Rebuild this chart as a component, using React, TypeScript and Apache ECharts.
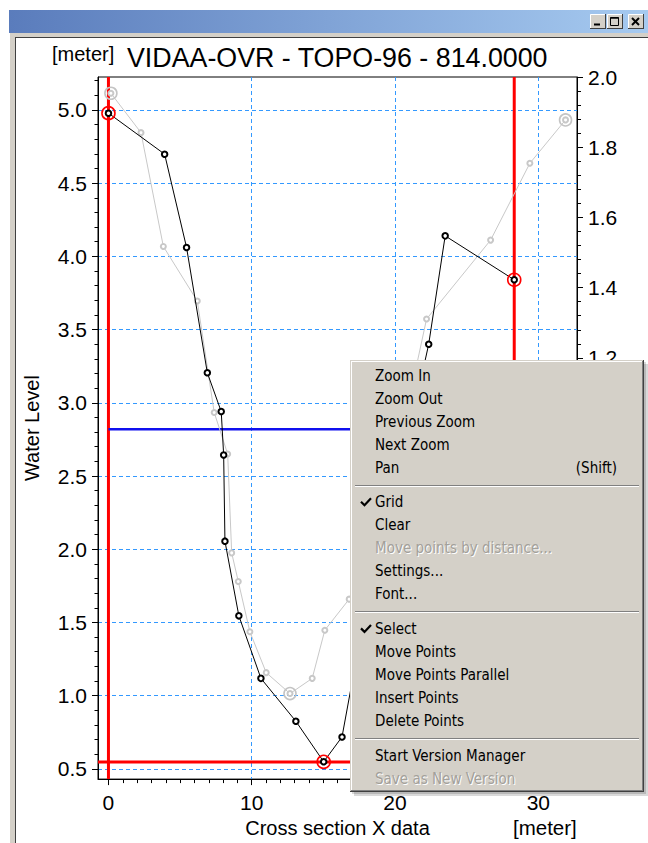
import React, { useEffect, useRef } from 'react';
import * as echarts from 'echarts';

const FONT = "'Liberation Sans', Arial, sans-serif";
const MENU_FONT = "'DejaVu Sans Condensed', 'DejaVu Sans', sans-serif";

// Axis ranges
const xRange = [-0.73, 32.7];
const yRange = [0.43, 5.225];
const rightRange = [0, 2];

// Tick values
const xMajorTicks = [0, 10, 20, 30];
const xMinorTicks = [0, 1, 2, 3, 4, 5, 6, 7, 8, 9, 10, 11, 12, 13, 14, 15, 16, 17, 18, 19, 20, 21, 22, 23, 24, 25, 26, 27, 28, 29, 30, 31, 32];
const yMajorTicks = [0.5, 1.0, 1.5, 2.0, 2.5, 3.0, 3.5, 4.0, 4.5, 5.0];
const yMinorTicks = [
  0.5, 0.6, 0.7, 0.8, 0.9, 1.0, 1.1, 1.2, 1.3, 1.4, 1.5, 1.6, 1.7, 1.8, 1.9, 2.0, 2.1, 2.2, 2.3, 2.4,
  2.5, 2.6, 2.7, 2.8, 2.9, 3.0, 3.1, 3.2, 3.3, 3.4, 3.5, 3.6, 3.7, 3.8, 3.9, 4.0, 4.1, 4.2, 4.3, 4.4,
  4.5, 4.6, 4.7, 4.8, 4.9, 5.0, 5.1, 5.2,
];

// Current cross section (black)
const currentX = [0, 3.92, 5.45, 6.9, 7.87, 8.04, 8.13, 9.1, 10.64, 13.08, 15.02, 16.3, 17.3, 19.0, 21.0, 22.35, 23.5, 28.32];
const currentY = [4.978, 4.698, 4.061, 3.205, 2.94, 2.643, 2.055, 1.545, 1.118, 0.825, 0.548, 0.718, 1.25, 2.0, 2.8, 3.4, 4.14, 3.84];
const currentMarked = [0, 10, 17];

// Previous version (gray)
const previousX = [0.17, 2.27, 3.83, 6.2, 7.38, 8.32, 8.6, 9.06, 9.87, 11.01, 12.67, 14.22, 15.1, 16.8, 18.5, 20.5, 22.2, 26.67, 29.41, 31.9];
const previousY = [5.114, 4.845, 4.068, 3.695, 2.934, 2.65, 1.975, 1.78, 1.436, 1.157, 1.014, 1.118, 1.447, 1.659, 2.1, 2.8, 3.572, 4.111, 4.636, 4.932];
const previousMarked = [0, 10, 19];

// Reference lines
const redVerticalX = [0, 28.32];
const redHorizontalY = 0.546;
const blueLevelY = 2.82;

const menuEntries: any[] = [
  { label: 'Zoom In' },
  { label: 'Zoom Out' },
  { label: 'Previous Zoom' },
  { label: 'Next Zoom' },
  { label: 'Pan', shortcut: '(Shift)' },
  { sep: true },
  { label: 'Grid', checked: true },
  { label: 'Clear' },
  { label: 'Move points by distance...', disabled: true },
  { label: 'Settings...' },
  { label: 'Font...' },
  { sep: true },
  { label: 'Select', checked: true },
  { label: 'Move Points' },
  { label: 'Move Points Parallel' },
  { label: 'Insert Points' },
  { label: 'Delete Points' },
  { sep: true },
  { label: 'Start Version Manager' },
  { label: 'Save as New Version', disabled: true },
];

function txt(x: number, y: number, text: string, size: number, fill: string, family: string, align = 'left', z = 100) {
  return {
    type: 'text',
    z,
    x,
    y,
    silent: true,
    style: {
      text,
      fill,
      fontSize: size,
      fontFamily: family,
      align,
      verticalAlign: 'middle',
      textAlign: align,
      textVerticalAlign: 'middle',
    },
  };
}

function line(x1: number, y1: number, x2: number, y2: number, stroke: string, w = 1, z = 100) {
  return { type: 'line', z, silent: true, shape: { x1, y1, x2, y2 }, style: { stroke, lineWidth: w } };
}

function rect(x: number, y: number, width: number, height: number, fill: any, z = 100) {
  return { type: 'rect', z, silent: true, shape: { x, y, width, height }, style: { fill } };
}

function buildGraphics() {
  const g: any[] = [];
  // Window title bar
  g.push(
    rect(9, 10, 639, 23, new echarts.graphic.LinearGradient(0, 0, 1, 0, [
      { offset: 0, color: '#5a7cbc' },
      { offset: 1, color: '#a6caf0' },
    ]))
  );
  // Title bar buttons
  const btns = [590, 607, 628];
  btns.forEach((bx, i) => {
    g.push(rect(bx, 14, 16, 15, '#d4d0c8', 101));
    g.push(line(bx + 0.5, 14.5, bx + 15.5, 14.5, '#ffffff', 1, 102));
    g.push(line(bx + 0.5, 14.5, bx + 0.5, 28.5, '#ffffff', 1, 102));
    g.push(line(bx, 28.5, bx + 16, 28.5, '#404040', 1, 102));
    g.push(line(bx + 15.5, 14, bx + 15.5, 29, '#404040', 1, 102));
    if (i === 0) {
      g.push(line(bx + 4, 24.5, bx + 10, 24.5, '#000', 2, 103));
    } else if (i === 1) {
      g.push({ type: 'rect', z: 103, silent: true, shape: { x: bx + 3.5, y: 17.5, width: 8, height: 8 }, style: { fill: 'none', stroke: '#000', lineWidth: 1 } });
      g.push(line(bx + 3.5, 18, bx + 11.5, 18, '#000', 1.5, 103));
    } else {
      g.push(line(bx + 4, 18, bx + 11, 25, '#000', 2, 103));
      g.push(line(bx + 11, 18, bx + 4, 25, '#000', 2, 103));
    }
  });
  // Window frame
  g.push(rect(10, 33, 6, 810, '#d4d0c8'));
  g.push(rect(10, 33, 638, 4, '#d4d0c8'));
  g.push(line(15.5, 37, 15.5, 843, '#404040', 1));
  g.push(line(15, 37.5, 648, 37.5, '#404040', 1));

  // Title and units
  g.push(txt(127, 58, 'VIDAA-OVR - TOPO-96 - 814.0000', 26.8, '#000', FONT, 'left', 10));
  g.push(txt(52, 54, '[meter]', 20, '#000', FONT, 'left', 10));
  g.push(txt(513, 827, '[meter]', 20.5, '#000', FONT, 'left', 10));

  // Context menu
  const mx = 350, my = 360, mw = 294, mh = 432;
  g.push(rect(mx + 4, my + 4, mw, mh, 'rgba(0,0,0,0.15)', 110));
  g.push(rect(mx + 2, my + 2, mw, mh, 'rgba(0,0,0,0.15)', 110));
  g.push(rect(mx, my, mw, mh, '#d4d0c8', 111));
  g.push(line(mx + 1.5, my + 1, mx + 1.5, my + mh - 1, '#ffffff', 1, 112));
  g.push(line(mx + 1, my + 1.5, mx + mw - 1, my + 1.5, '#ffffff', 1, 112));
  g.push(line(mx + mw - 1.5, my + 1, mx + mw - 1.5, my + mh - 1, '#808080', 1, 112));
  g.push(line(mx + 1, my + mh - 1.5, mx + mw - 1, my + mh - 1.5, '#808080', 1, 112));
  g.push(line(mx + mw - 0.5, my, mx + mw - 0.5, my + mh, '#404040', 1, 112));
  g.push(line(mx, my + mh - 0.5, mx + mw, my + mh - 0.5, '#404040', 1, 112));

  let cy = 375.5;
  menuEntries.forEach((e) => {
    if (e.sep) {
      const sy = Math.round(cy - 6) + 0.5;
      g.push(line(mx + 5, sy, mx + mw - 5, sy, '#808080', 1, 113));
      g.push(line(mx + 5, sy + 1, mx + mw - 5, sy + 1, '#ffffff', 1, 113));
      cy += 11.7;
      return;
    }
    if (e.disabled) {
      g.push(txt(376, cy + 1, e.label, 15, '#ffffff', MENU_FONT, 'left', 113));
      g.push(txt(375, cy, e.label, 15, '#a3a09a', MENU_FONT, 'left', 114));
    } else {
      g.push(txt(375, cy, e.label, 15, '#000000', MENU_FONT, 'left', 114));
    }
    if (e.shortcut) {
      g.push(txt(617, cy, e.shortcut, 15, '#000000', MENU_FONT, 'right', 114));
    }
    if (e.checked) {
      g.push({
        type: 'polyline', z: 114, silent: true,
        shape: { points: [[361, cy - 0.5], [364.5, cy + 3], [371, cy - 4]] },
        style: { stroke: '#000', lineWidth: 2.2, fill: null },
      });
    }
    cy += 23;
  });
  return g;
}

function buildOption() {
  const axisLabelBase = { color: '#000', fontSize: 21, fontFamily: FONT };
  const gridLine = { show: true, lineStyle: { color: '#3399ff', type: [4, 3], width: 1 } };
  const series: any[] = [];
  redVerticalX.forEach((x) => {
    series.push({
      type: 'line', xAxisIndex: 0, yAxisIndex: 0, silent: true, symbol: 'none', z: 2,
      data: [[x, yRange[0]], [x, yRange[1]]],
      lineStyle: { color: '#ff0000', width: 3 },
    });
  });
  series.push({
    type: 'line', xAxisIndex: 0, yAxisIndex: 0, silent: true, symbol: 'none', z: 2,
    data: [[xRange[0], redHorizontalY], [xRange[1], redHorizontalY]],
    lineStyle: { color: '#ff0000', width: 3 },
  });
  series.push({
    type: 'line', xAxisIndex: 0, yAxisIndex: 0, silent: true, symbol: 'none', z: 2,
    data: [[0, blueLevelY], [xRange[1], blueLevelY]],
    lineStyle: { color: '#1010ee', width: 2.5 },
  });
  series.push({
    type: 'line', xAxisIndex: 0, yAxisIndex: 0, silent: true, z: 3,
    data: previousX.map((x, i) => [x, previousY[i]]),
    symbol: 'emptyCircle', symbolSize: 5,
    itemStyle: { color: '#c8c8c8', borderWidth: 1 },
    lineStyle: { color: '#c8c8c8', width: 1 },
  });
  series.push({
    type: 'scatter', xAxisIndex: 0, yAxisIndex: 0, silent: true, z: 3,
    data: previousMarked.map((i) => [previousX[i], previousY[i]]),
    symbol: 'circle', symbolSize: 12,
    itemStyle: { color: 'rgba(255,255,255,0)', borderColor: '#c4c4c4', borderWidth: 1.6, opacity: 1 },
  });
  series.push({
    type: 'line', xAxisIndex: 0, yAxisIndex: 0, silent: true, z: 4,
    data: currentX.map((x, i) => [x, currentY[i]]),
    symbol: 'emptyCircle', symbolSize: 5.5,
    itemStyle: { color: '#000000', borderWidth: 1 },
    lineStyle: { color: '#000000', width: 1 },
  });
  series.push({
    type: 'scatter', xAxisIndex: 0, yAxisIndex: 0, silent: true, z: 5,
    data: currentMarked.map((i) => [currentX[i], currentY[i]]),
    symbol: 'circle', symbolSize: 13,
    itemStyle: { color: 'rgba(255,255,255,0)', borderColor: '#ff0000', borderWidth: 1.6, opacity: 1 },
  });

  return {
    animation: false,
    backgroundColor: '#ffffff',
    textStyle: { fontFamily: FONT },
    grid: {
      left: 98, top: 77, width: 479, height: 704,
      show: true, borderColor: '#000', borderWidth: 1, backgroundColor: 'transparent',
    },
    xAxis: [
      {
        type: 'value', min: xRange[0], max: xRange[1], splitNumber: 4, position: 'bottom',
        axisLine: { show: true, onZero: false, lineStyle: { color: '#000', width: 1 } },
        axisTick: { show: true, length: 6, customValues: xMajorTicks, lineStyle: { color: '#000' } },
        axisLabel: { ...axisLabelBase, margin: 13, customValues: xMajorTicks },
        splitLine: gridLine,
        name: 'Cross section X data', nameLocation: 'middle', nameGap: 36,
        nameTextStyle: { color: '#000', fontSize: 20, fontFamily: FONT },
      },
      {
        type: 'value', min: xRange[0], max: xRange[1], position: 'bottom',
        axisLine: { show: false, onZero: false },
        axisTick: { show: true, length: 4, customValues: xMinorTicks, lineStyle: { color: '#000' } },
        axisLabel: { show: false },
        splitLine: { show: false },
      },
    ],
    yAxis: [
      {
        type: 'value', min: yRange[0], max: yRange[1], splitNumber: 10, position: 'left',
        axisLine: { show: true, onZero: false, lineStyle: { color: '#000', width: 1 } },
        axisTick: { show: true, length: 6, customValues: yMajorTicks, lineStyle: { color: '#000' } },
        axisLabel: {
          ...axisLabelBase, margin: 11, customValues: yMajorTicks,
          formatter: (v: number) => v.toFixed(1),
        },
        splitLine: gridLine,
        name: 'Water Level', nameLocation: 'middle', nameGap: 56,
        nameTextStyle: { color: '#000', fontSize: 20, fontFamily: FONT },
      },
      {
        type: 'value', min: rightRange[0], max: rightRange[1], interval: 0.2, position: 'right',
        axisLine: { show: true, onZero: false, lineStyle: { color: '#000', width: 1 } },
        axisTick: { show: true, length: 6, lineStyle: { color: '#000' } },
        minorTick: { show: true, splitNumber: 5, length: 4, lineStyle: { color: '#000' } },
        axisLabel: {
          ...axisLabelBase, margin: 11, showMinLabel: false, padding: [5, 0, 0, 0],
          formatter: (v: number) => v.toFixed(1),
        },
        splitLine: { show: false },
      },
      {
        type: 'value', min: yRange[0], max: yRange[1], position: 'left',
        axisLine: { show: false, onZero: false },
        axisTick: { show: true, length: 3.5, customValues: yMinorTicks, lineStyle: { color: '#000' } },
        axisLabel: { show: false },
        splitLine: { show: false },
      },
    ],
    series,
    graphic: buildGraphics(),
  };
}

export default function App() {
  const ref = useRef<HTMLDivElement>(null);
  useEffect(() => {
    if (!ref.current) return;
    const chart = echarts.init(ref.current, null, { renderer: 'svg' });
    chart.setOption(buildOption() as any);
    return () => {
      chart.dispose();
    };
  }, []);
  return (
    <div
      ref={ref}
      style={{ position: 'fixed', left: 0, top: 0, width: 648, height: 843, background: '#fff' }}
    />
  );
}
